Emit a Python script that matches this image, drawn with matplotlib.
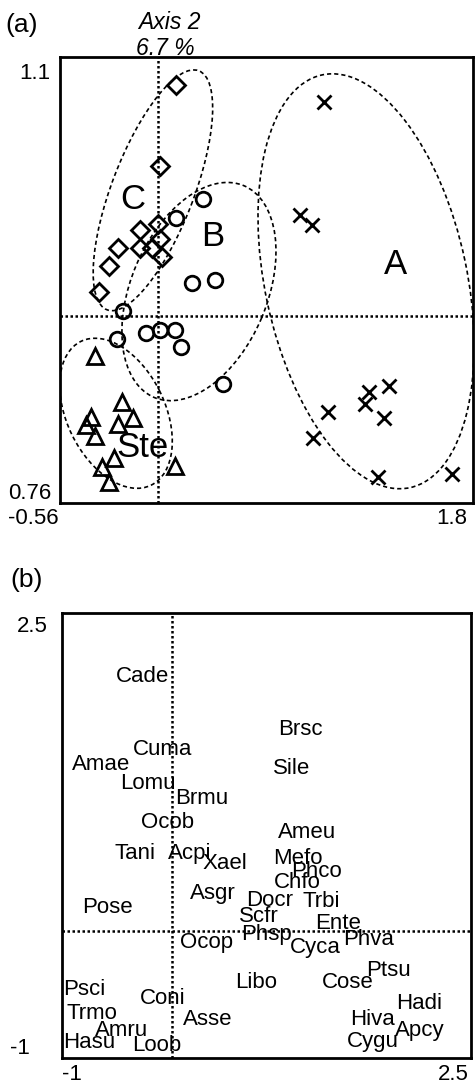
"""Ordination plots: (a) site scores with group envelopes, (b) species scores."""
import matplotlib
matplotlib.use("Agg")
import matplotlib.pyplot as plt
from matplotlib.patches import Ellipse
from matplotlib.transforms import ScaledTranslation

plt.rcParams["font.family"] = ["Liberation Sans", "DejaVu Sans"]

# ---- panel (a): site scores per group ----
a_xlim = (-0.56, 1.8)
a_ylim = (0.752, 1.1)

grp_c_x = [0.103, 0.011, -0.103, 0.000, 0.011, -0.103, -0.034, 0.023, -0.229, -0.280, -0.337]
grp_c_y = [1.078, 1.015, 0.965, 0.970, 0.958, 0.951, 0.951, 0.944, 0.951, 0.937, 0.917]

grp_b_x = [0.257, 0.103, 0.194, 0.326, -0.200, -0.234, -0.069, 0.011, 0.097, 0.131, 0.371]
grp_b_y = [0.989, 0.974, 0.924, 0.926, 0.902, 0.880, 0.885, 0.887, 0.887, 0.874, 0.845]

grp_ste_x = [-0.360, -0.206, -0.383, -0.143, -0.411, -0.229, -0.360, -0.251, -0.320, -0.280, 0.097]
grp_ste_y = [0.867, 0.831, 0.819, 0.818, 0.813, 0.814, 0.804, 0.787, 0.780, 0.768, 0.781]

grp_a_x = [0.949, 0.811, 0.880, 1.320, 1.206, 1.183, 0.971, 1.291, 0.886, 1.257, 1.680]
grp_a_y = [1.065, 0.977, 0.969, 0.843, 0.839, 0.829, 0.823, 0.818, 0.803, 0.772, 0.775]

# group envelopes: name, centre x, centre y, label x, label y
env_names = ["C", "B", "Ste", "A"]
env_cx = [-0.029, 0.234, -0.240, 1.189]
env_cy = [0.996, 0.917, 0.822, 0.925]
env_lx = [-0.143, 0.314, -0.086, 1.360]
env_ly = [0.989, 0.960, 0.795, 0.938]

a_axis_y = 0.898

# ---- panel (b): species scores ----
b_xlim = (-0.92, 2.5)
b_ylim = (-1.0, 2.5)

species = ["Cade", "Cuma", "Amae", "Lomu", "Brmu", "Ocob", "Tani", "Acpi", "Xael", "Asgr",
           "Pose", "Scfr", "Phsp", "Ocop", "Ameu", "Mefo", "Phco", "Chfo", "Docr", "Trbi",
           "Ente", "Cyca", "Phva", "Ptsu", "Libo", "Cose", "Hadi", "Hiva", "Apcy", "Cygu",
           "Psci", "Coni", "Trmo", "Asse", "Amru", "Hasu", "Loob", "Brsc", "Sile"]
sp_x = [-0.25, -0.08, -0.59, -0.20, 0.25, -0.04, -0.31, 0.15, 0.44, 0.34,
        -0.54, 0.73, 0.79, 0.29, 1.13, 1.05, 1.21, 1.05, 0.82, 1.25,
        1.39, 1.20, 1.64, 1.81, 0.70, 1.47, 2.07, 1.68, 2.07, 1.68,
        -0.73, -0.08, -0.67, 0.30, -0.42, -0.69, -0.13, 1.07, 1.00]
sp_y = [2.00, 1.43, 1.31, 1.16, 1.04, 0.85, 0.61, 0.61, 0.53, 0.29,
        0.18, 0.11, -0.03, -0.09, 0.77, 0.57, 0.47, 0.38, 0.24, 0.23,
        0.06, -0.13, -0.07, -0.31, -0.41, -0.41, -0.57, -0.70, -0.78, -0.87,
        -0.46, -0.53, -0.65, -0.70, -0.78, -0.88, -0.90, 1.58, 1.28]


def draw_envelope(ax, cx, cy, half_major, half_minor, angle):
    # sizes are in output pixels, centre in data units
    trans = ScaledTranslation(cx, cy, ax.transData)
    ell = Ellipse((0, 0), 2 * half_major, 2 * half_minor, angle=angle, transform=trans,
                  fill=False, edgecolor="black", linewidth=1.2, linestyle=(0, (2.5, 1.8)))
    ax.add_patch(ell)


def style_frame(ax):
    ax.set_xticks([])
    ax.set_yticks([])
    for side in ax.spines.values():
        side.set_linewidth(2.0)


fig = plt.figure(figsize=(4.75, 10.85), dpi=100)

# panel (a)
ax1 = fig.add_axes([60 / 475, 1 - 503 / 1085, 413 / 475, 446 / 1085])
ax1.set_xlim(*a_xlim)
ax1.set_ylim(*a_ylim)
style_frame(ax1)
ax1.axvline(0, color="black", lw=1.8, ls=(0, (1, 1)))
ax1.axhline(a_axis_y, color="black", lw=1.8, ls=(0, (1, 1)))

mk = dict(linestyle="none", markerfacecolor="none", markeredgecolor="black", markeredgewidth=2.0)
ax1.plot(grp_c_x, grp_c_y, marker="D", markersize=9, **mk)
ax1.plot(grp_b_x, grp_b_y, marker="o", markersize=10.5, **mk)
ax1.plot(grp_ste_x, grp_ste_y, marker="^", markersize=12, **mk)
ax1.plot(grp_a_x, grp_a_y, marker="x", markersize=10.5, **mk)

env_size = [(128, 41, 69), (115, 68, 67), (80, 49, 116), (211, 101, 102)]
for cx, cy, (ha_, hb_, ang) in zip(env_cx, env_cy, env_size):
    draw_envelope(ax1, cx, cy, ha_, hb_, ang)
for name, lx, ly in zip(env_names, env_lx, env_ly):
    ax1.text(lx, ly, name, fontsize=25, ha="center", va="center")

ax1.text(-0.024, 0.964, "1.1", transform=ax1.transAxes, ha="right", va="center", fontsize=16)
ax1.text(-0.02, 0.022, "0.76", transform=ax1.transAxes, ha="right", va="center", fontsize=16)
ax1.text(-0.065, -0.034, "-0.56", transform=ax1.transAxes, ha="center", va="center", fontsize=16)
ax1.text(0.949, -0.034, "1.8", transform=ax1.transAxes, ha="center", va="center", fontsize=16)
ax1.text(0.264, 1.078, "Axis 2", transform=ax1.transAxes, ha="center", va="center",
         fontsize=16.5, style="italic")
ax1.text(0.254, 1.020, "6.7 %", transform=ax1.transAxes, ha="center", va="center",
         fontsize=16.5, style="italic")
fig.text(22 / 475, 1 - 25 / 1085, "(a)", ha="center", va="center", fontsize=19)

# panel (b)
ax2 = fig.add_axes([62 / 475, 1 - 1058 / 1085, 409 / 475, 445 / 1085])
ax2.set_xlim(*b_xlim)
ax2.set_ylim(*b_ylim)
style_frame(ax2)
ax2.axvline(0, color="black", lw=1.8, ls=(0, (1, 1)))
ax2.axhline(0, color="black", lw=1.8, ls=(0, (1, 1)))
for name, x, y in zip(species, sp_x, sp_y):
    ax2.text(x, y, name, fontsize=16, ha="center", va="center")

ax2.text(-0.073, 0.969, "2.5", transform=ax2.transAxes, ha="center", va="center", fontsize=16)
ax2.text(-0.103, 0.022, "-1", transform=ax2.transAxes, ha="center", va="center", fontsize=16)
ax2.text(0.024, -0.038, "-1", transform=ax2.transAxes, ha="center", va="center", fontsize=16)
ax2.text(0.956, -0.038, "2.5", transform=ax2.transAxes, ha="center", va="center", fontsize=16)
fig.text(27 / 475, 1 - 580 / 1085, "(b)", ha="center", va="center", fontsize=19)

fig.savefig("out.png", dpi=100)
plt.close(fig)
